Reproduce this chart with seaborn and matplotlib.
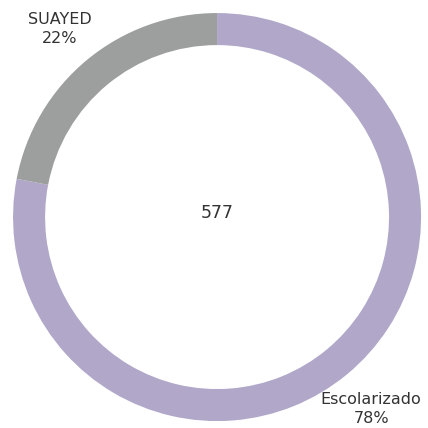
import matplotlib
matplotlib.use("Agg")
import matplotlib.pyplot as plt
import seaborn as sns

# data
categories = ["Escolarizado", "SUAYED"]
shares = [78, 22]
total = 577
colors = ["#b1a7c9", "#9c9f9d"]

sns.set_style("white")
plt.rcParams['font.family'] = ['DejaVu Sans']

fig = plt.figure(figsize=(4.28, 4.28), dpi=100)
ax = fig.add_axes([0, 0, 1, 1])

wedges, _ = ax.pie(shares, colors=colors, startangle=90, counterclock=False,
                   radius=1.0, wedgeprops=dict(width=0.157, linewidth=0))

# axis limits so the ring sits where it does in the picture
ax.set_xlim(-1.064, 1.034)
ax.set_ylim(-1.034, 1.064)
ax.set_aspect('auto')
ax.axis('off')

ax.text(0, 0.02, str(total), ha='center', va='center', fontsize=12.5, color='#333333')

# labels
ax.text(-0.770, 0.922, f"{categories[1]}\n{shares[1]}%", ha='center', va='center',
        fontsize=11.5, color='#333333', linespacing=1.3)
ax.text(0.755, -0.941, f"{categories[0]}\n{shares[0]}%", ha='center', va='center',
        fontsize=11.5, color='#333333', linespacing=1.3)

fig.savefig("out.png", dpi=100, facecolor='white')
